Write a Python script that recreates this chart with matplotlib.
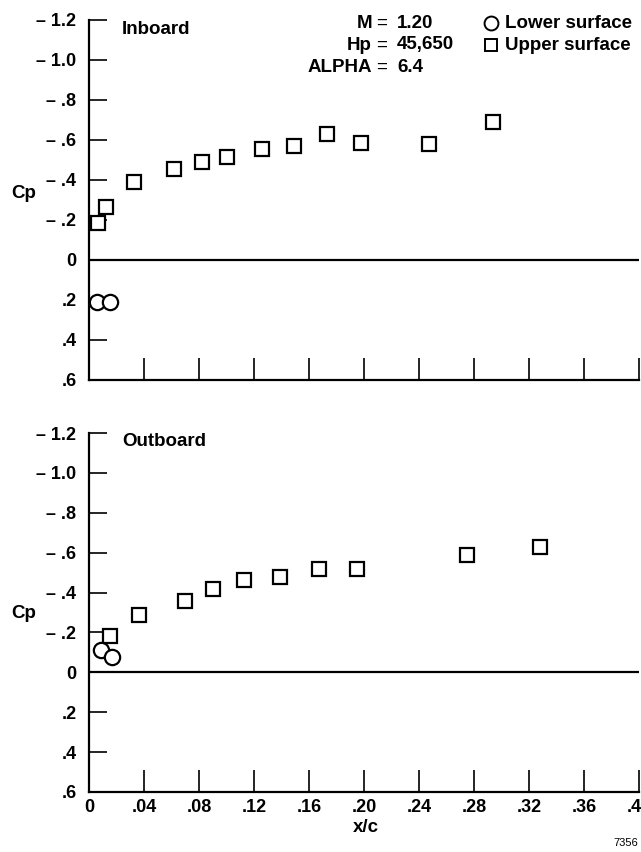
import matplotlib.pyplot as plt
import numpy as np

plt.rcParams['font.family'] = ['Liberation Sans', 'DejaVu Sans']
plt.rcParams['font.weight'] = 'bold'
plt.rcParams['font.size'] = 13
plt.rcParams['xtick.direction'] = 'in'
plt.rcParams['ytick.direction'] = 'in'

# Inboard station
inb_up_x = [0.0065, 0.012, 0.033, 0.062, 0.082, 0.100, 0.126, 0.149, 0.173, 0.198, 0.247, 0.294]
inb_up_cp = [-0.185, -0.265, -0.39, -0.455, -0.49, -0.515, -0.555, -0.57, -0.63, -0.585, -0.58, -0.69]
inb_lo_x = [0.006, 0.015]
inb_lo_cp = [0.21, 0.21]

# Outboard station
out_up_x = [0.015, 0.036, 0.070, 0.090, 0.113, 0.139, 0.167, 0.195, 0.275, 0.328]
out_up_cp = [-0.18, -0.285, -0.36, -0.42, -0.465, -0.48, -0.52, -0.52, -0.59, -0.63]
out_lo_x = [0.009, 0.017]
out_lo_cp = [-0.11, -0.075]

y_ticks = [-1.2, -1.0, -0.8, -0.6, -0.4, -0.2, 0, 0.2, 0.4, 0.6]
y_labels = ['– 1.2', '– 1.0', '– .8', '– .6', '– .4', '– .2', '0', '.2', '.4', '.6']
x_ticks = [0, 0.04, 0.08, 0.12, 0.16, 0.20, 0.24, 0.28, 0.32, 0.36, 0.40]
x_labels = ['0', '.04', '.08', '.12', '.16', '.20', '.24', '.28', '.32', '.36', '.40']

W, H = 641, 852
fig = plt.figure(figsize=(W / 100, H / 100), dpi=100)


def px(x, y):
    return x / W, 1 - y / H


def panel(top, bottom, name, ux, ucp, lx, lcp, show_x):
    ax = fig.add_axes([89 / W, 1 - bottom / H, 550 / W, (bottom - top) / H])
    ax.set_xlim(0, 0.40)
    ax.set_ylim(0.6, -1.2)
    for s in ['top', 'right']:
        ax.spines[s].set_visible(False)
    for s in ['left', 'bottom']:
        ax.spines[s].set_linewidth(1.6)
    ax.axhline(0, color='black', lw=1.6, zorder=1)
    ax.set_yticks(y_ticks)
    ax.set_yticklabels(y_labels)
    ax.set_xticks(x_ticks)
    if show_x:
        ax.set_xticklabels(x_labels)
    else:
        ax.set_xticklabels([])
    ax.tick_params(axis='y', length=13, width=1.2, pad=9)
    ax.tick_params(axis='x', length=16, width=1.2, pad=5)
    ax.plot(ux, ucp, 's', ms=10, mfc='white', mec='black', mew=1.6, clip_on=False, zorder=3)
    ax.plot(lx, lcp, 'o', ms=11, mfc='white', mec='black', mew=1.6, clip_on=False, zorder=3)
    ax.text(0.06, 0.975, name, transform=ax.transAxes, fontsize=13.5, va='center', ha='left')
    return ax


panel(20, 380, 'Inboard', inb_up_x, inb_up_cp, inb_lo_x, inb_lo_cp, False)
panel(433, 792, 'Outboard', out_up_x, out_up_cp, out_lo_x, out_lo_cp, True)

# Cp labels
fig.text(*px(24, 194), 'Cp', ha='center', va='center', fontsize=13.5)
fig.text(*px(24, 613), 'Cp', ha='center', va='center', fontsize=13.5)

# flight condition block
for y, k, v in [(23, 'M', '1.20'), (45, 'Hp', '45,650'), (67, 'ALPHA', '6.4')]:
    fig.text(*px(372, y), k, ha='right', va='center', fontsize=13.5)
    fig.text(*px(382, y), '=', ha='center', va='center', fontsize=13.5, fontweight='normal')
    fig.text(*px(397, y), v, ha='left', va='center', fontsize=13.5)

# legend
lx0 = fig.add_axes([0, 0, 1, 1], facecolor='none')
lx0.set_xlim(0, W)
lx0.set_ylim(H, 0)
lx0.axis('off')
lx0.plot([491], [23], 'o', ms=10, mfc='white', mec='black', mew=1.4)
lx0.plot([491], [45], 's', ms=9, mfc='white', mec='black', mew=1.4)
fig.text(*px(505, 23), 'Lower surface', ha='left', va='center', fontsize=13.5)
fig.text(*px(505, 45), 'Upper surface', ha='left', va='center', fontsize=13.5)

fig.text(*px(366, 827), 'x/c', ha='center', va='center', fontsize=13.5)
fig.text(*px(638, 843), '7356', ha='right', va='center', fontsize=8, fontweight='normal')

fig.savefig('out.png', dpi=100)
